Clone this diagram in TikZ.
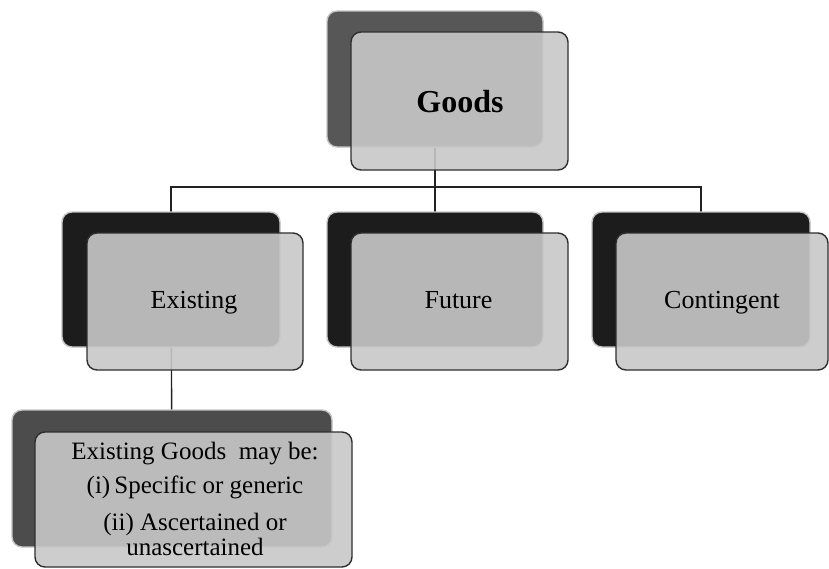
\documentclass[tikz,border=0pt]{standalone}
\usepackage{fontspec}
\setmainfont{Liberation Serif}
\usetikzlibrary{fit}
\definecolor{backdark}{HTML}{1C1C1C}
\definecolor{backmid}{HTML}{575757}
\definecolor{backbot}{HTML}{4C4C4C}
\definecolor{frontfill}{HTML}{C8C8C8}
\definecolor{frontline}{HTML}{2E2E2E}
\definecolor{backline}{HTML}{C4C4C4}
\definecolor{conn}{HTML}{222222}
\tikzset{
  backbox/.style={draw=backline, line width=1.4pt, rounded corners=10pt},
  frontbox/.style={draw=frontline, line width=1.4pt, rounded corners=10pt, fill=frontfill, fill opacity=0.9, text opacity=1},
  conline/.style={draw=conn, line width=1.4pt},
  lbl/.style={font=\fontsize{26}{30}\selectfont, text=black, anchor=base},
}
\begin{document}
\begin{tikzpicture}[x=1pt,y=-1pt]
\useasboundingbox (0,0) rectangle (829,568);
% back boxes as coordinates
\coordinate (gbA) at (327,11);  \coordinate (gbB) at (543,147);
\coordinate (ebA) at (62,212);  \coordinate (ebB) at (280,347);
\coordinate (fbA) at (327,212); \coordinate (fbB) at (543,347);
\coordinate (cbA) at (592,212); \coordinate (cbB) at (810,347);
\coordinate (bbA) at (12,410);  \coordinate (bbB) at (332,547);
\node[inner sep=0, fit=(gbA)(gbB)] (goodsback) {};
\node[inner sep=0, fit=(ebA)(ebB)] (existback) {};
\node[inner sep=0, fit=(fbA)(fbB)] (futback) {};
\node[inner sep=0, fit=(cbA)(cbB)] (contback) {};
\node[inner sep=0, fit=(bbA)(bbB)] (botback) {};
% connectors
\coordinate (bus) at (435,187);
\draw[conline] (goodsback.center) -- (goodsback.center |- bus);
\draw[conline] (goodsback.center |- bus) -| (existback.center);
\draw[conline] (goodsback.center |- bus) -| (contback.center);
\draw[conline] (goodsback.center |- bus) -- (futback.center);
\draw[conline] (existback.center) -- (botback.center);
% back boxes
\draw[backbox, fill=backmid] (gbA) rectangle (gbB);
\draw[backbox, fill=backdark] (ebA) rectangle (ebB);
\draw[backbox, fill=backdark] (fbA) rectangle (fbB);
\draw[backbox, fill=backdark] (cbA) rectangle (cbB);
\draw[backbox, fill=backbot] (bbA) rectangle (bbB);
% front boxes
\draw[frontbox] (351,32) rectangle (568,170);
\draw[frontbox] (87,233) rectangle (303,370);
\draw[frontbox] (351,233) rectangle (568,370);
\draw[frontbox] (616,233) rectangle (828,370);
\draw[frontbox] (35,432) rectangle (352,567);
% labels
\node[font=\fontsize{32}{36}\selectfont\bfseries, anchor=base] (goods) at (460,112) {Goods};
\node[lbl] (existing) at (194,308) {Existing};
\node[lbl] (future) at (458.5,308) {Future};
\node[lbl] (contingent) at (722,308) {Contingent};
\node[font=\fontsize{25}{25}\selectfont, align=center, anchor=north] (details) at (195,439)
  {Existing Goods\ \ may be:\\[9pt] (i)\,Specific or generic\\[12pt] (ii) Ascertained or\\ unascertained};
\end{tikzpicture}
\end{document}
